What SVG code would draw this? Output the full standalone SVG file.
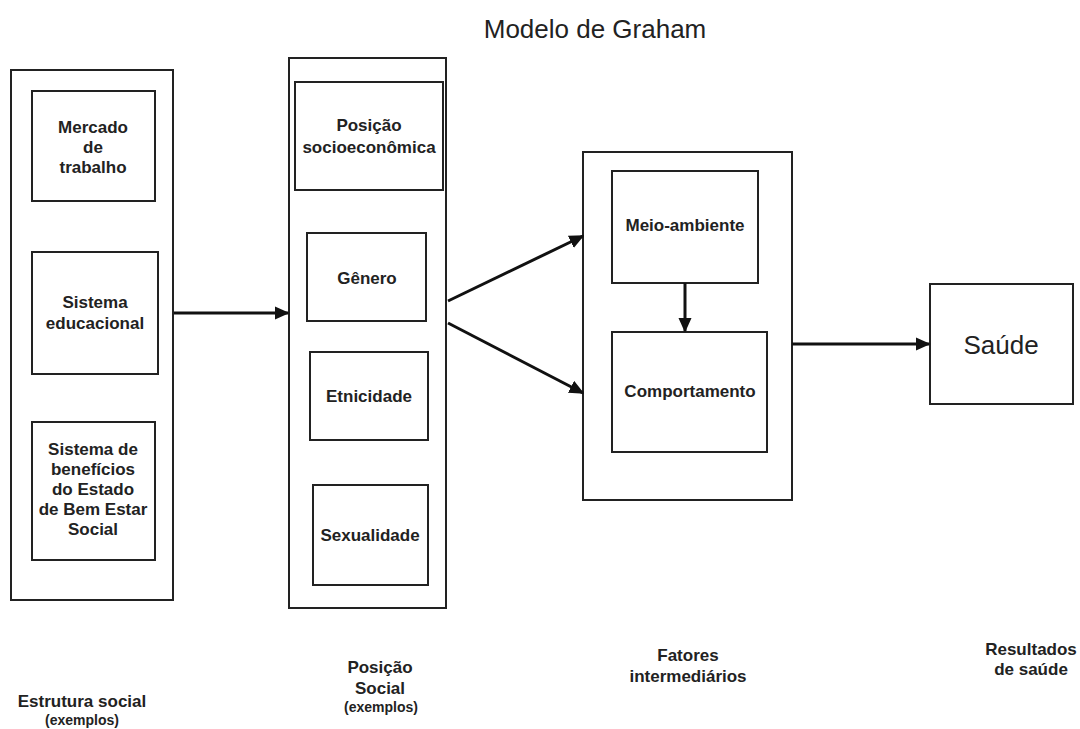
<svg xmlns="http://www.w3.org/2000/svg" width="1080" height="729" viewBox="0 0 1080 729">
<defs>
<style>
.b{fill:#fff;stroke:#222;stroke-width:2}
.t{font-family:"Liberation Sans",Arial,sans-serif;font-weight:bold;font-size:17px;fill:#222;text-anchor:middle}
.s{font-size:14px}
.c{stroke:#111;stroke-width:3;fill:none;marker-end:url(#ah)}
</style>
<marker id="ah" viewBox="0 0 10 10" refX="9" refY="5" markerWidth="5" markerHeight="4.5" orient="auto" markerUnits="strokeWidth" preserveAspectRatio="none">
<path d="M0,0 L10,5 L0,10 z" fill="#111"/>
</marker>
</defs>
<rect width="1080" height="729" fill="#fff"/>
<text x="595" y="38" font-family="'Liberation Sans',Arial,sans-serif" font-size="26" fill="#222" text-anchor="middle">Modelo de Graham</text>
<g id="estrutura">
<rect class="b" x="11" y="70" width="162" height="530"/>
</g>
<g id="mercado"><rect class="b" x="32" y="91" width="123" height="110"/>
<text class="t" x="93" y="133">Mercado</text><text class="t" x="93" y="153">de</text><text class="t" x="93" y="173">trabalho</text></g>
<g id="educacional"><rect class="b" x="32" y="252" width="126" height="122"/>
<text class="t" x="95" y="308">Sistema</text><text class="t" x="95" y="329">educacional</text></g>
<g id="beneficios"><rect class="b" x="32" y="422" width="123" height="138"/>
<text class="t" x="93" y="455">Sistema de</text><text class="t" x="93" y="475">benefícios</text><text class="t" x="93" y="495">do Estado</text><text class="t" x="93" y="515">de Bem Estar</text><text class="t" x="93" y="535">Social</text></g>
<g id="posicao">
<rect class="b" x="289" y="58" width="157" height="550"/>
</g>
<g id="socioeconomica"><rect class="b" x="295" y="82" width="148" height="108"/>
<text class="t" x="369" y="131">Posição</text><text class="t" x="369" y="153">socioeconômica</text></g>
<g id="genero"><rect class="b" x="307" y="233" width="119" height="88"/>
<text class="t" x="367" y="284">Gênero</text></g>
<g id="etnicidade"><rect class="b" x="310" y="352" width="118" height="88"/>
<text class="t" x="369" y="402">Etnicidade</text></g>
<g id="sexualidade"><rect class="b" x="313" y="485" width="115" height="100"/>
<text class="t" x="370" y="541">Sexualidade</text></g>
<g id="fatores">
<rect class="b" x="583" y="152" width="209" height="348"/>
</g>
<g id="meio"><rect class="b" x="612" y="171" width="146" height="112"/>
<text class="t" x="685" y="231">Meio-ambiente</text></g>
<g id="comportamento"><rect class="b" x="612" y="332" width="155" height="120"/>
<text class="t" x="690" y="397">Comportamento</text></g>
<g id="saude"><rect class="b" x="930" y="284" width="143" height="120"/>
<text x="1001" y="354" font-family="'Liberation Sans',Arial,sans-serif" font-size="26" fill="#222" text-anchor="middle">Saúde</text></g>
<g id="connectors">
<line class="c" x1="174" y1="313" x2="288" y2="313"/>
<line class="c" x1="448" y1="301" x2="583" y2="236"/>
<line class="c" x1="448" y1="323" x2="583" y2="393"/>
<line class="c" x1="685" y1="283" x2="685" y2="331"/>
<line class="c" x1="792" y1="344" x2="929" y2="344"/>
</g>
<g id="labels">
<text class="t" x="82" y="707">Estrutura social</text><text class="t s" x="82" y="725">(exemplos)</text>
<text class="t" x="380" y="673">Posição</text><text class="t" x="380" y="694">Social</text><text class="t s" x="381" y="712">(exemplos)</text>
<text class="t" x="688" y="661">Fatores</text><text class="t" x="688" y="682">intermediários</text>
<text class="t" x="1031" y="655">Resultados</text><text class="t" x="1031" y="675">de saúde</text>
</g>
</svg>
